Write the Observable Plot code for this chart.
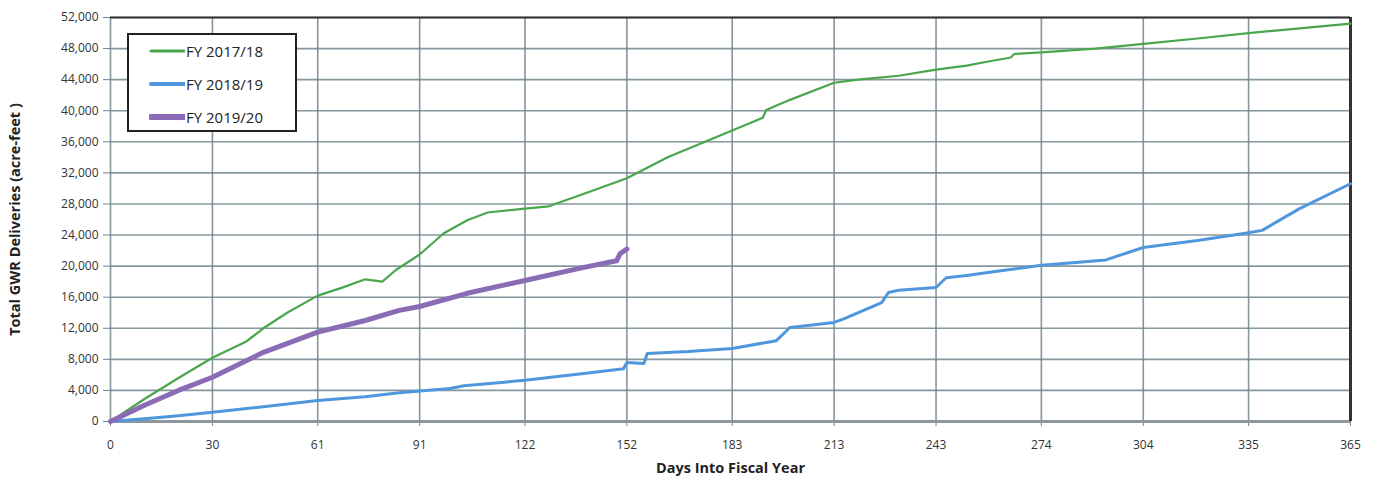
<!DOCTYPE html>
<html>
<head>
<meta charset="utf-8">
<script src="https://cdn.jsdelivr.net/npm/d3@7"></script>
<script src="https://cdn.jsdelivr.net/npm/@observablehq/plot@0.6"></script>
<style>
  html, body { margin: 0; padding: 0; background: #fff; }
  #wrap { position: relative; width: 1373px; height: 479px; }
  #legend {
    position: absolute; left: 127px; top: 33px; width: 166px; height: 95px;
    border: 2px solid #222; background: #fff;
    font-family: "Open Sans", "Liberation Sans", sans-serif; font-size: 15px; color: #222;
  }
  .row { position: absolute; left: 20px; display: flex; align-items: center; height: 20px; }
  .row svg { display: block; margin-right: 1px; }
</style>
</head>
<body>
<div id="wrap"><div id="legend"></div></div>
<script>
// ---- Data ----
const seriesNames = ["FY 2017/18", "FY 2018/19", "FY 2019/20"];
const seriesColors = ["#4aa64c", "#4f97dd", "#8a6bb5"];
const seriesWidths = [2.2, 3, 5];

const days1718 = [0, 10, 20, 30, 40, 45, 52, 61, 68, 75, 80, 84, 91, 98, 105, 111, 122, 129, 140, 152, 164, 175, 183, 192, 193, 200, 213, 220, 232, 243, 252, 258, 265, 266, 274, 290, 304, 320, 335, 350, 365];
const vals1718 = [0, 2900, 5600, 8200, 10300, 12000, 14000, 16200, 17200, 18300, 18000, 19500, 21500, 24200, 25900, 26900, 27400, 27700, 29400, 31300, 34000, 36000, 37450, 39100, 40100, 41400, 43600, 44000, 44500, 45300, 45800, 46300, 46850, 47300, 47500, 48000, 48600, 49300, 50000, 50600, 51200];

const days1819 = [0, 10, 20, 30, 45, 61, 75, 85, 100, 104, 122, 140, 151, 152, 157, 158, 170, 183, 196, 200, 213, 216, 227, 229, 232, 243, 246, 252, 262, 274, 285, 293, 304, 320, 335, 339, 350, 365];
const vals1819 = [0, 350, 750, 1200, 1900, 2700, 3200, 3700, 4250, 4600, 5300, 6200, 6800, 7600, 7450, 8750, 9000, 9400, 10400, 12100, 12750, 13250, 15300, 16600, 16900, 17250, 18500, 18800, 19400, 20100, 20500, 20800, 22400, 23300, 24300, 24600, 27400, 30600];

const days1920 = [0, 10, 20, 30, 45, 61, 75, 85, 91, 105, 122, 139, 149, 150, 152];
const vals1920 = [0, 2100, 4000, 5700, 8900, 11500, 13000, 14300, 14800, 16500, 18150, 19800, 20700, 21600, 22200];

const xTicks = [0, 30, 61, 91, 122, 152, 183, 213, 243, 274, 304, 335, 365];
const yTicks = d3.range(0, 52001, 4000);

// ---- Build table ----
const table = [
  ...days1718.map((d, i) => ({day: d, value: vals1718[i], series: seriesNames[0]})),
  ...days1819.map((d, i) => ({day: d, value: vals1819[i], series: seriesNames[1]})),
  ...days1920.map((d, i) => ({day: d, value: vals1920[i], series: seriesNames[2]}))
];

const gridColor = "#71858c";

const chart = Plot.plot({
  width: 1373,
  height: 479,
  marginLeft: 110,
  marginRight: 23,
  marginTop: 17,
  marginBottom: 58,
  style: { fontFamily: "'Open Sans', 'Liberation Sans', sans-serif", fontSize: "12px", color: "#333", background: "#fff" },
  x: { domain: [0, 365], ticks: xTicks, tickFormat: d => String(d), label: null, tickSize: 5 },
  y: { domain: [0, 52000], ticks: yTicks, tickFormat: d3.format(","), label: null, tickSize: 7 },
  marks: [
    Plot.gridX(xTicks, { stroke: gridColor, strokeOpacity: 0.85, strokeWidth: 1.6 }),
    Plot.gridY(yTicks, { stroke: gridColor, strokeOpacity: 0.85, strokeWidth: 1.6 }),
    Plot.axisX(xTicks, { tickFormat: d => String(d), tickSize: 5, tickPadding: 14, fontSize: 12, stroke: gridColor, label: null }),
    Plot.axisY(yTicks, { tickFormat: d3.format(","), tickSize: 7, tickPadding: 5, fontSize: 12, stroke: gridColor, label: null }),
    Plot.ruleY([52000], { stroke: "#333", strokeWidth: 1.8 }),
    Plot.ruleY([0], { stroke: "#8e989c", strokeWidth: 3 }),
    Plot.ruleX([365], { stroke: "#333", strokeWidth: 3 }),
    Plot.line(table.filter(d => d.series === seriesNames[1]), { x: "day", y: "value", stroke: seriesColors[1], strokeWidth: seriesWidths[1] }),
    Plot.line(table.filter(d => d.series === seriesNames[0]), { x: "day", y: "value", stroke: seriesColors[0], strokeWidth: seriesWidths[0] }),
    Plot.line(table.filter(d => d.series === seriesNames[2]), { x: "day", y: "value", stroke: seriesColors[2], strokeWidth: seriesWidths[2] }),
    Plot.text(["Days Into Fiscal Year"], { frameAnchor: "bottom", dy: 51, fontWeight: "bold", fontSize: 14.5, fill: "#222" }),
    Plot.text(["Total GWR Deliveries (acre-feet )"], { frameAnchor: "left", dx: -95, rotate: -90, textAnchor: "middle", fontWeight: "bold", fontSize: 14.5, fill: "#222" })
  ]
});

document.getElementById("wrap").prepend(chart);
chart.style.position = "absolute";
chart.style.left = "0px";
chart.style.top = "0px";

// Legend
const legend = document.getElementById("legend");
seriesNames.forEach((name, i) => {
  const row = document.createElement("div");
  row.className = "row";
  row.style.top = (6 + i * 33) + "px";
  row.innerHTML = `<svg width="36" height="12"><line x1="2" y1="6" x2="36" y2="6" stroke="${seriesColors[i]}" stroke-width="${seriesWidths[i] + 1}" stroke-linecap="round"/></svg><span>${name}</span>`;
  legend.appendChild(row);
});
</script>
</body>
</html>
